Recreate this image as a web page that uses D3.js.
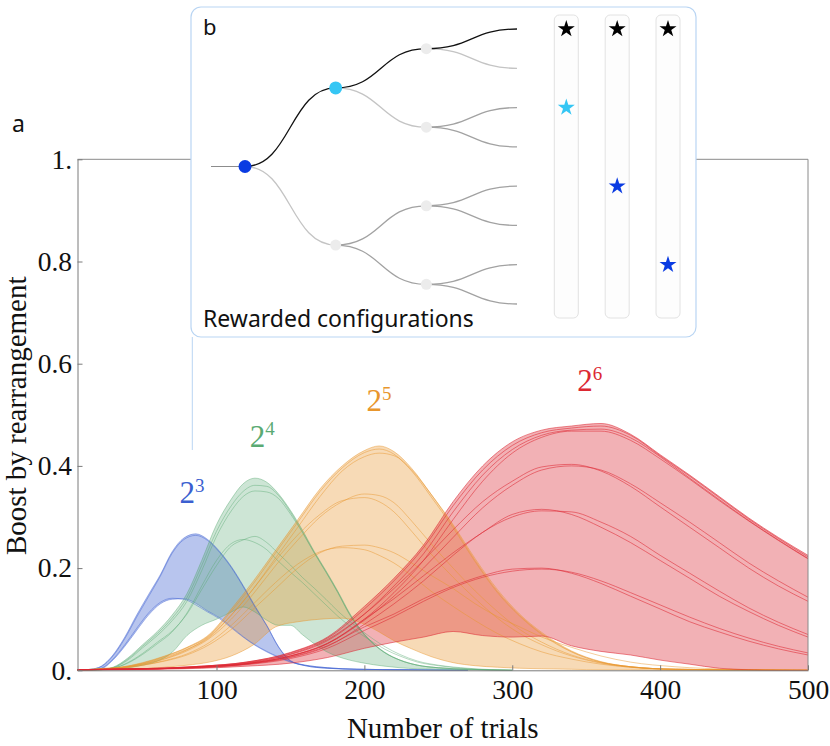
<!DOCTYPE html>
<html>
<head>
<meta charset="utf-8">
<script src="https://cdn.jsdelivr.net/npm/d3@7"></script>
<style>
  body { margin: 0; background: #fff; }
  svg { display: block; }
</style>
</head>
<body>
<div id="chart"></div>
<script>
// 2^3 configurations
const blueTrials = [6, 15, 22, 30, 38, 46, 54, 62, 70, 78, 86, 94, 102, 110, 118, 126, 134, 142, 150, 160, 175, 195, 230, 270];
const blueUpper = [0, 0.002, 0.008, 0.03, 0.065, 0.108, 0.148, 0.187, 0.232, 0.259, 0.267, 0.256, 0.233, 0.203, 0.166, 0.126, 0.088, 0.046, 0.019, 0.009, 0.004, 0.002, 0.001, 0];
const blueLower = [0, 0.001, 0.003, 0.02, 0.047, 0.078, 0.108, 0.13, 0.139, 0.14, 0.131, 0.116, 0.103, 0.085, 0.066, 0.05, 0.037, 0.026, 0.017, 0.01, 0.005, 0.002, 0.001, 0];
const blueRuns = [
  [0, 0.002, 0.007, 0.028, 0.062, 0.104, 0.144, 0.184, 0.229, 0.256, 0.264, 0.254, 0.231, 0.201, 0.164, 0.124, 0.087, 0.045, 0.018, 0.009, 0.004, 0.002, 0.001, 0],
  [0, 0.001, 0.004, 0.022, 0.05, 0.082, 0.112, 0.133, 0.141, 0.139, 0.128, 0.114, 0.101, 0.083, 0.065, 0.049, 0.036, 0.025, 0.016, 0.01, 0.005, 0.002, 0.001, 0]
];

// 2^4 configurations
const greenTrials = [6, 20, 30, 40, 50, 60, 70, 80, 90, 100, 110, 118, 126, 134, 142, 150, 158, 166, 174, 182, 190, 198, 206, 214, 224, 236, 250, 270, 300];
const greenUpper = [0, 0.001, 0.006, 0.024, 0.05, 0.076, 0.108, 0.15, 0.215, 0.285, 0.335, 0.365, 0.376, 0.368, 0.345, 0.313, 0.275, 0.233, 0.195, 0.155, 0.112, 0.078, 0.053, 0.035, 0.02, 0.01, 0.005, 0.002, 0];
const greenLower = [0, 0.001, 0.002, 0.005, 0.01, 0.018, 0.035, 0.068, 0.088, 0.1, 0.114, 0.124, 0.114, 0.098, 0.088, 0.088, 0.07, 0.052, 0.037, 0.027, 0.02, 0.015, 0.011, 0.008, 0.005, 0.003, 0.002, 0.001, 0];
const greenRuns = [
  [0, 0.001, 0.005, 0.022, 0.047, 0.072, 0.102, 0.142, 0.205, 0.272, 0.322, 0.35, 0.362, 0.36, 0.342, 0.31, 0.272, 0.231, 0.193, 0.153, 0.11, 0.077, 0.052, 0.034, 0.02, 0.01, 0.005, 0.002, 0],
  [0, 0.001, 0.005, 0.02, 0.044, 0.068, 0.097, 0.135, 0.195, 0.262, 0.312, 0.34, 0.351, 0.349, 0.336, 0.306, 0.27, 0.23, 0.192, 0.152, 0.109, 0.076, 0.052, 0.034, 0.02, 0.01, 0.005, 0.002, 0],
  [0, 0.001, 0.004, 0.015, 0.033, 0.055, 0.077, 0.11, 0.158, 0.205, 0.243, 0.255, 0.262, 0.25, 0.228, 0.206, 0.182, 0.161, 0.139, 0.116, 0.096, 0.078, 0.061, 0.046, 0.031, 0.018, 0.01, 0.004, 0],
  [0, 0.001, 0.004, 0.014, 0.031, 0.052, 0.075, 0.112, 0.165, 0.215, 0.248, 0.256, 0.25, 0.236, 0.213, 0.192, 0.172, 0.15, 0.128, 0.106, 0.087, 0.07, 0.055, 0.041, 0.028, 0.016, 0.009, 0.003, 0]
];

// 2^5 configurations
const orangeTrials = [6, 20, 35, 50, 65, 80, 95, 110, 125, 140, 155, 170, 185, 200, 210, 220, 232, 245, 260, 275, 290, 305, 320, 340, 360, 380, 410, 450, 500];
const orangeUpper = [0, 0.003, 0.006, 0.015, 0.028, 0.045, 0.07, 0.12, 0.175, 0.235, 0.295, 0.355, 0.4, 0.43, 0.439, 0.428, 0.395, 0.345, 0.283, 0.215, 0.155, 0.108, 0.072, 0.037, 0.016, 0.007, 0.002, 0.001, 0];
const orangeLower = [0, 0.001, 0.002, 0.003, 0.006, 0.01, 0.016, 0.028, 0.05, 0.085, 0.095, 0.1, 0.102, 0.09, 0.075, 0.058, 0.042, 0.027, 0.015, 0.009, 0.006, 0.004, 0.003, 0.002, 0.001, 0.001, 0, 0, 0];
const orangeRuns = [
  [0, 0.003, 0.006, 0.014, 0.027, 0.044, 0.068, 0.116, 0.17, 0.23, 0.29, 0.35, 0.396, 0.426, 0.433, 0.423, 0.39, 0.34, 0.279, 0.212, 0.152, 0.106, 0.07, 0.036, 0.016, 0.007, 0.002, 0.001, 0],
  [0, 0.002, 0.005, 0.013, 0.025, 0.041, 0.064, 0.108, 0.16, 0.22, 0.28, 0.34, 0.39, 0.418, 0.425, 0.42, 0.392, 0.345, 0.285, 0.218, 0.158, 0.11, 0.074, 0.038, 0.017, 0.007, 0.002, 0.001, 0],
  [0, 0.002, 0.005, 0.012, 0.022, 0.038, 0.062, 0.1, 0.15, 0.205, 0.255, 0.3, 0.33, 0.345, 0.342, 0.328, 0.292, 0.248, 0.2, 0.155, 0.115, 0.08, 0.055, 0.03, 0.015, 0.007, 0.002, 0.001, 0],
  [0, 0.002, 0.005, 0.012, 0.023, 0.04, 0.066, 0.108, 0.16, 0.215, 0.265, 0.305, 0.332, 0.338, 0.33, 0.31, 0.272, 0.228, 0.182, 0.14, 0.102, 0.072, 0.05, 0.028, 0.014, 0.006, 0.002, 0.001, 0],
  [0, 0.002, 0.004, 0.01, 0.018, 0.03, 0.05, 0.08, 0.12, 0.16, 0.2, 0.23, 0.243, 0.245, 0.24, 0.23, 0.21, 0.186, 0.16, 0.13, 0.105, 0.085, 0.065, 0.045, 0.028, 0.016, 0.007, 0.002, 0],
  [0, 0.002, 0.004, 0.01, 0.019, 0.032, 0.054, 0.088, 0.13, 0.172, 0.208, 0.232, 0.24, 0.236, 0.225, 0.21, 0.185, 0.155, 0.125, 0.097, 0.072, 0.052, 0.036, 0.022, 0.012, 0.006, 0.002, 0.001, 0]
];

// 2^6 configurations
const redTrials = [6, 30, 60, 90, 120, 150, 175, 200, 220, 240, 260, 280, 300, 320, 340, 360, 380, 400, 420, 440, 460, 480, 500];
const redUpper = [0.001, 0.002, 0.004, 0.008, 0.016, 0.035, 0.065, 0.125, 0.18, 0.245, 0.33, 0.4, 0.447, 0.47, 0.478, 0.483, 0.462, 0.422, 0.382, 0.34, 0.298, 0.26, 0.225];
const redLower = [0, 0.001, 0.002, 0.004, 0.008, 0.014, 0.025, 0.043, 0.055, 0.065, 0.076, 0.068, 0.065, 0.067, 0.048, 0.037, 0.03, 0.02, 0.012, 0.004, 0.001, 0, 0];
const redRuns = [
  [0.001, 0.002, 0.004, 0.008, 0.016, 0.034, 0.063, 0.12, 0.175, 0.24, 0.322, 0.392, 0.44, 0.465, 0.474, 0.478, 0.46, 0.42, 0.38, 0.338, 0.296, 0.258, 0.222],
  [0.001, 0.002, 0.003, 0.007, 0.014, 0.031, 0.058, 0.11, 0.165, 0.228, 0.31, 0.382, 0.432, 0.46, 0.47, 0.472, 0.455, 0.418, 0.376, 0.334, 0.293, 0.255, 0.219],
  [0.001, 0.002, 0.003, 0.006, 0.013, 0.028, 0.053, 0.1, 0.152, 0.215, 0.295, 0.37, 0.425, 0.456, 0.468, 0.468, 0.45, 0.414, 0.374, 0.332, 0.292, 0.254, 0.218],
  [0.001, 0.002, 0.004, 0.008, 0.015, 0.032, 0.06, 0.11, 0.16, 0.215, 0.275, 0.33, 0.37, 0.398, 0.403, 0.39, 0.36, 0.32, 0.28, 0.24, 0.2, 0.165, 0.135],
  [0.001, 0.002, 0.003, 0.007, 0.013, 0.028, 0.052, 0.098, 0.145, 0.2, 0.26, 0.318, 0.362, 0.392, 0.4, 0.392, 0.365, 0.328, 0.29, 0.25, 0.21, 0.175, 0.143],
  [0.001, 0.002, 0.003, 0.007, 0.013, 0.028, 0.052, 0.1, 0.14, 0.185, 0.23, 0.27, 0.305, 0.315, 0.305, 0.28, 0.25, 0.215, 0.18, 0.145, 0.115, 0.088, 0.065],
  [0.001, 0.002, 0.003, 0.006, 0.012, 0.025, 0.047, 0.09, 0.13, 0.175, 0.225, 0.27, 0.3, 0.312, 0.31, 0.29, 0.262, 0.225, 0.19, 0.155, 0.122, 0.094, 0.07],
  [0.001, 0.002, 0.003, 0.006, 0.012, 0.026, 0.048, 0.085, 0.11, 0.14, 0.165, 0.185, 0.198, 0.2, 0.19, 0.17, 0.145, 0.12, 0.095, 0.075, 0.057, 0.042, 0.03],
  [0.001, 0.002, 0.003, 0.005, 0.011, 0.023, 0.043, 0.078, 0.105, 0.135, 0.162, 0.182, 0.194, 0.198, 0.192, 0.175, 0.152, 0.128, 0.104, 0.082, 0.063, 0.047, 0.034]
];

// labels "2^n" placed at (trials, boost)
const exponents = ["3", "4", "5", "6"];
const labelTrials = [75, 122.5, 201.5, 344];
const labelBoost = [0.327, 0.437, 0.507, 0.546];

// axis ticks
const xTicks = [100, 200, 300, 400, 500];
const yTicks = [0, 0.2, 0.4, 0.6, 0.8, 1];
const yTickLabels = ["0.", "0.2", "0.4", "0.6", "0.8", "1."];

// inset b: binary tree of configurations, edge = on (rewarded path), near (sibling), off
const configTree = {
  node: "root",
  children: [
    { edge: "on", node: "cyan", children: [
      { edge: "on", children: [{ edge: "on" }, { edge: "near" }] },
      { edge: "near", children: [{ edge: "off" }, { edge: "off" }] }
    ] },
    { edge: "near", children: [
      { edge: "off", children: [{ edge: "off" }, { edge: "off" }] },
      { edge: "off", children: [{ edge: "off" }, { edge: "off" }] }
    ] }
  ]
};
// rewarded leaves per column: first star black, second coloured
const rewardedLeaves = [[0, 2], [0, 4], [0, 6]];
const rewardedColors = ["#35c6f4", "#0a3be2", "#0a3be2"];

const width = 830;
const height = 746;

const svg = d3
  .select("#chart")
  .append("svg")
  .attr("width", width)
  .attr("height", height);

const x = d3.scaleLinear().domain([6, 500]).range([77.5, 808]);
const y = d3.scaleLinear().domain([0, 1]).range([670.3, 159.3]);

const serif = "Liberation Serif";
const sans = "Noto Sans";

const groups = [
  { color: "#3b5fd0", fill: 0.36, lineOpacity: 0.55, trials: blueTrials, upper: blueUpper, lower: blueLower, runs: blueRuns },
  { color: "#5aaa73", fill: 0.3, lineOpacity: 0.55, trials: greenTrials, upper: greenUpper, lower: greenLower, runs: greenRuns },
  { color: "#e8962d", fill: 0.35, lineOpacity: 0.6, trials: orangeTrials, upper: orangeUpper, lower: orangeLower, runs: orangeRuns },
  { color: "#dc2832", fill: 0.36, lineOpacity: 0.7, trials: redTrials, upper: redUpper, lower: redLower, runs: redRuns }
];

// Bands between lowest and highest run
const plot = svg.append("g");

groups.forEach((g) => {
  const area = d3
    .area()
    .x((d, i) => x(g.trials[i]))
    .y0((d, i) => y(g.lower[i]))
    .y1((d, i) => y(g.upper[i]))
    .curve(d3.curveMonotoneX);

  plot
    .append("path")
    .attr("d", area(g.trials))
    .attr("fill", g.color)
    .attr("fill-opacity", g.fill)
    .attr("stroke", "none");
});

// Thin lines of the single runs, on top of all bands
groups.forEach((g) => {
  const line = d3
    .line()
    .x((d, i) => x(g.trials[i]))
    .y((d) => y(d))
    .curve(d3.curveMonotoneX);

  plot
    .selectAll(null)
    .data([g.upper, g.lower].concat(g.runs))
    .enter()
    .append("path")
    .attr("d", (d) => line(d))
    .attr("fill", "none")
    .attr("stroke", g.color)
    .attr("stroke-opacity", g.lineOpacity)
    .attr("stroke-width", 0.8);
});

// Frame (top and right)
svg
  .append("path")
  .attr("d", `M${x.range()[0]},${y.range()[1]}H${x.range()[1]}V${y.range()[0]}`)
  .attr("fill", "none")
  .attr("stroke", "#8a8a8a");

const xAxis = svg
  .append("g")
  .attr("transform", `translate(0,${y.range()[0]})`)
  .call(
    d3.axisBottom(x)
      .tickValues(xTicks)
      .tickFormat(d3.format("d"))
      .tickSize(-5)
      .tickSizeOuter(0)
      .tickPadding(9)
  );

const yAxis = svg
  .append("g")
  .attr("transform", `translate(${x.range()[0]},0)`)
  .call(
    d3.axisLeft(y)
      .tickValues(yTicks)
      .tickFormat((d, i) => yTickLabels[i])
      .tickSize(-5)
      .tickSizeOuter(0)
      .tickPadding(5.5)
  );

[xAxis, yAxis].forEach((ax) => {
  ax.attr("font-family", serif).attr("font-size", 27.5);
  ax.select(".domain").attr("stroke", "#7a7a7a");
  ax.selectAll(".tick line").attr("stroke", "#7a7a7a");
  ax.selectAll(".tick text").attr("fill", "#111");
});

svg
  .append("text")
  .attr("x", (x.range()[0] + x.range()[1]) / 2)
  .attr("y", 738)
  .attr("text-anchor", "middle")
  .attr("font-family", serif)
  .attr("font-size", 29)
  .attr("fill", "#111")
  .text("Number of trials");

svg
  .append("text")
  .attr("transform", `translate(26,${(y.range()[0] + y.range()[1]) / 2 + 1}) rotate(-90)`)
  .attr("text-anchor", "middle")
  .attr("font-family", serif)
  .attr("font-size", 29)
  .attr("fill", "#111")
  .text("Boost by rearrangement");

// 2^n labels
groups.forEach((g, i) => {
  const t = svg
    .append("text")
    .attr("x", x(labelTrials[i]))
    .attr("y", y(labelBoost[i]))
    .attr("font-family", serif)
    .attr("font-size", 31)
    .attr("fill", g.color);
  t.append("tspan").text("2");
  t.append("tspan")
    .attr("dy", -11.5)
    .attr("font-size", 19)
    .text(exponents[i]);
});

svg
  .append("text")
  .attr("x", 12)
  .attr("y", 132)
  .attr("font-family", sans)
  .attr("font-size", 23)
  .attr("fill", "#111")
  .text("a");

// Inset b
const inset = svg.append("g");

inset
  .append("line")
  .attr("x1", 192.3)
  .attr("x2", 192.3)
  .attr("y1", 337)
  .attr("y2", 450)
  .attr("stroke", "#b9d5f3");

inset
  .append("rect")
  .attr("x", 191)
  .attr("y", 7)
  .attr("width", 505)
  .attr("height", 330)
  .attr("rx", 10)
  .attr("fill", "#fff")
  .attr("stroke", "#b9d5f3")
  .attr("stroke-width", 1.2);

inset
  .append("text")
  .attr("x", 203)
  .attr("y", 35)
  .attr("font-family", sans)
  .attr("font-size", 22)
  .attr("fill", "#111")
  .text("b");

inset
  .append("text")
  .attr("x", 203)
  .attr("y", 327)
  .attr("font-family", sans)
  .attr("font-size", 23)
  .attr("fill", "#111")
  .text("Rewarded configurations");

// cluster leaves are inset by half a slot, so give it 8/7 of the 275px leaf span
const leafSpan = 275;
const clusterHeight = (leafSpan * 8) / 7;
const root = d3.hierarchy(configTree);
d3.cluster().size([clusterHeight, 272]).separation(() => 1)(root);

const treeTop = 29 - clusterHeight / 16;
const treeG = inset.append("g").attr("transform", `translate(245,${treeTop})`);
const edgeColor = { on: "#111", near: "#c4c4c4", off: "#a2a2a2" };

treeG
  .append("line")
  .attr("x1", -34)
  .attr("x2", root.y)
  .attr("y1", root.x)
  .attr("y2", root.x)
  .attr("stroke", "#8c8c8c")
  .attr("stroke-width", 1.2);

const link = d3
  .linkHorizontal()
  .x((d) => d.y)
  .y((d) => d.x);

treeG
  .selectAll(".edge")
  .data(root.links().sort((a, b) => (a.target.data.edge === "on") - (b.target.data.edge === "on")))
  .enter()
  .append("path")
  .attr("class", "edge")
  .attr("d", link)
  .attr("fill", "none")
  .attr("stroke", (d) => edgeColor[d.target.data.edge])
  .attr("stroke-width", 1.3);

const nodeFill = { root: "#0a3be2", cyan: "#35c6f4" };

treeG
  .selectAll(".node")
  .data(root.descendants().filter((d) => d.children))
  .enter()
  .append("circle")
  .attr("class", "node")
  .attr("cx", (d) => d.y)
  .attr("cy", (d) => d.x)
  .attr("r", (d) => (d.data.node ? 6.5 : 5.5))
  .attr("fill", (d) => nodeFill[d.data.node] || "#ececec");

// Columns of rewarded leaves
const leaves = root.leaves();
const columnX = [566.3, 617.2, 668];

const columns = inset
  .selectAll(".column")
  .data(rewardedLeaves)
  .enter()
  .append("g")
  .attr("class", "column")
  .attr("transform", (d, i) => `translate(${columnX[i]},0)`);

columns
  .append("rect")
  .attr("x", -12)
  .attr("y", 15)
  .attr("width", 24)
  .attr("height", 303)
  .attr("rx", 5)
  .attr("fill", "#fdfdfd")
  .attr("stroke", "#e2e2e2");

columns
  .selectAll("path")
  .data((d, i) => d.map((leaf, k) => ({ leaf, color: k === 0 ? "#000" : rewardedColors[i] })))
  .enter()
  .append("path")
  .attr("transform", (d) => `translate(0,${treeTop + leaves[d.leaf].x})`)
  .attr("d", d3.symbol(d3.symbolStar, 90))
  .attr("fill", (d) => d.color);
</script>
</body>
</html>
